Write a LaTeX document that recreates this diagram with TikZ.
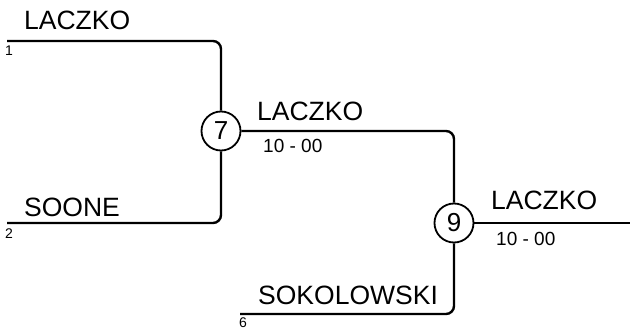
\documentclass[tikz,border=0pt]{standalone}
\usepackage{fontspec}
\setmainfont{Liberation Sans}
\begin{document}
\begin{tikzpicture}[x=1pt,y=-1pt,
  bline/.style={line width=2.4pt,rounded corners=8pt},
  match/.style={circle,draw,line width=1.8pt,minimum size=39pt,inner sep=0pt,font=\fontsize{26}{26}\selectfont},
  pname/.style={anchor=base west,inner sep=0pt,font=\fontsize{26.5}{26.5}\selectfont},
  score/.style={anchor=base west,inner sep=0pt,font=\fontsize{19}{19}\selectfont},
  seed/.style={anchor=base west,inner sep=0pt,font=\fontsize{14}{14}\selectfont}]
\useasboundingbox (0,0) rectangle (630,329);
% coordinates
\coordinate (s1) at (7,41);
\coordinate (s2) at (7,223);
\coordinate (s6) at (240,314);
\coordinate (fin) at (630,223);
\node[match] (m7) at (221,131) {7};
\node[match] (m9) at (454,223) {9};
% lines
\draw[bline] (s1) -| (m7.north);
\draw[bline] (s2) -| (m7.south);
\draw[bline] (m7.east) -| (m9.north);
\draw[bline] (s6) -| (m9.south);
\draw[bline] (m9.east) -- (fin);
% texts
\node[pname] (n1) at (24,30) {LACZKO};
\node[seed] (d1) at (5,56) {1};
\node[pname] (n2) at (24,216) {SOONE};
\node[seed] (d2) at (5,238) {2};
\node[pname] (n7) at (257,121) {LACZKO};
\node[score] (r7) at (263,153) {10 - 00};
\node[pname] (n6) at (258,304) {SOKOLOWSKI};
\node[seed] (d6) at (239,327) {6};
\node[pname] (n9) at (491,209) {LACZKO};
\node[score] (r9) at (496,245) {10 - 00};
\end{tikzpicture}
\end{document}
